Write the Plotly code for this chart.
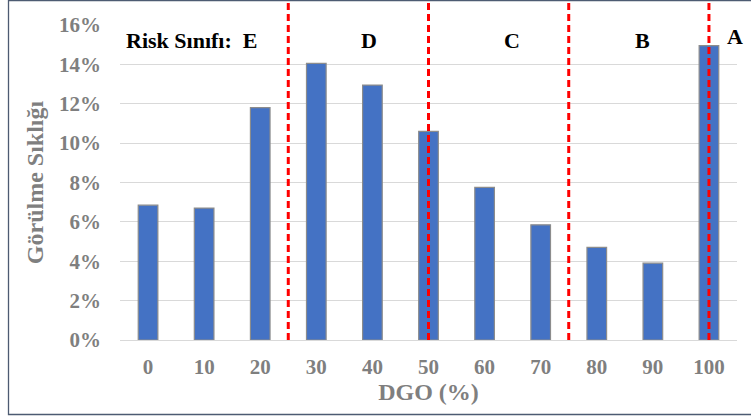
import plotly.graph_objects as go

# DGO classes (%) and how often each one was observed (%)
dgo = [0, 10, 20, 30, 40, 50, 60, 70, 80, 90, 100]
frequency = [6.85, 6.7, 11.8, 14.05, 12.95, 10.6, 7.75, 5.85, 4.7, 3.9, 14.95]

# risk class boundaries and their labels
class_bounds = [25, 50, 75, 100]
class_labels = ["Risk Sınıfı:  E", "D", "C", "B", "A"]
class_label_x = [7.7, 39.4, 64.9, 88.2, 104.6]
class_label_y = [15.2, 15.2, 15.2, 15.2, 15.4]

y_ticks = [0, 2, 4, 6, 8, 10, 12, 14, 16]
y_tick_text = [f"{v}%" for v in y_ticks]

W, H = 751, 417
L, R, T, B = 120, 14, 25, 77
plot_w = W - L - R
plot_h = H - T - B

serif = "Liberation Serif, Times New Roman, serif"
gray = "#7f7f7f"

fig = go.Figure()
fig.add_trace(go.Bar(
    x=dgo, y=frequency, width=3.5,
    marker=dict(color="#4472C4", line=dict(color="#8c8c8c", width=1.2)),
))

# dashed class boundaries, running from the baseline to the top edge
for b in class_bounds:
    fig.add_shape(type="line", xref="x", yref="paper",
                  x0=b, x1=b, y0=0, y1=(T + plot_h) / plot_h,
                  line=dict(color="#ff0000", width=3, dash="7px,4px"),
                  layer="above")

for txt, x, y in zip(class_labels, class_label_x, class_label_y):
    fig.add_annotation(x=x, y=y, xref="x", yref="y", text=f"<b>{txt}</b>", showarrow=False,
                       font=dict(family=serif, size=22, color="#000000"),
                       xanchor="center", yanchor="middle")

# outer frame of the figure
fig.add_shape(type="rect", xref="paper", yref="paper",
              x0=(8.5 - L) / plot_w, x1=(W + 5 - L) / plot_w,
              y0=(plot_h + T - 414.5) / plot_h, y1=(plot_h + T - 0.5) / plot_h,
              line=dict(color="#4d5b72", width=1.3), layer="below")

fig.update_layout(
    width=W, height=H,
    margin=dict(l=L, r=R, t=T, b=B),
    paper_bgcolor="white", plot_bgcolor="white",
    showlegend=False,
    font=dict(family=serif, color=gray),
    xaxis=dict(
        range=[-5, 105], tickvals=dgo, ticktext=[str(v) for v in dgo],
        showgrid=False, zeroline=False, showline=True, linecolor="#d9d9d9", linewidth=1,
        ticks="", tickfont=dict(family=serif, size=21, color=gray, weight="bold"),
        ticklabelstandoff=8,
        title=dict(text="<b>DGO (%)</b>", font=dict(family=serif, size=24, color=gray), standoff=2),
    ),
    yaxis=dict(
        range=[0, 16], tickvals=y_ticks, ticktext=y_tick_text,
        showgrid=True, gridcolor="#d9d9d9", gridwidth=1, zeroline=False, showline=False,
        ticks="", tickfont=dict(family=serif, size=21, color=gray, weight="bold"),
        ticklabelstandoff=18,
        title=dict(text="<b>Görülme Sıklığı</b>", font=dict(family=serif, size=24, color=gray), standoff=8),
    ),
)

fig.write_html("out.html")
